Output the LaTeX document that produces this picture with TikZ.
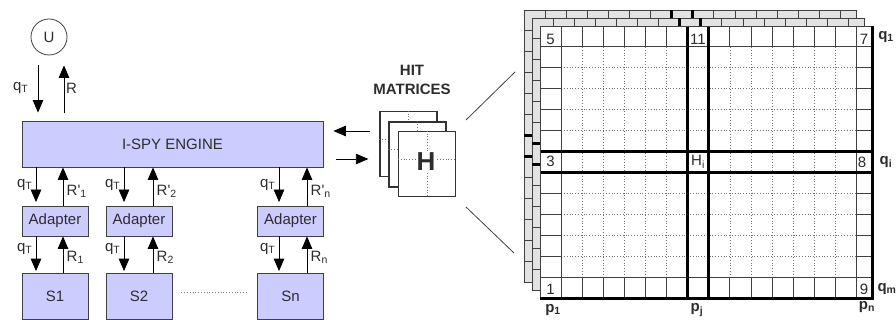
\documentclass[tikz,border=0pt]{standalone}
\usepackage{fontspec}
\setmainfont{Liberation Sans}
\usepackage{tikz}
\usetikzlibrary{arrows.meta,positioning,calc}
\definecolor{engineBlue}{RGB}{204,204,255}
\definecolor{sheetGray}{RGB}{226,226,226}
\definecolor{inkGray}{RGB}{45,45,45}
\newcommand{\cellw}{21.1}
\newcommand{\cellh}{20.92}
\newcommand{\hitsheet}[1]{%
  \begin{scope}[shift={(#1,#1)}]
    \draw[gridline,fill=sheetGray] (0,0) rectangle (332,272);
    \foreach \col in {1,...,15} \draw[gridline] ({\col*\cellw},0) -- ++(0,272);
    \foreach \row in {1,...,12} \draw[gridline] (0,{\row*\cellh}) -- ++(332,0);
    \draw[heavy] ({7*\cellw},0) -- ++(0,272) ({8*\cellw},0) -- ++(0,272)
      (0,{6*\cellh}) -- ++(332,0) (0,{7*\cellh}) -- ++(332,0);
  \end{scope}}

\begin{document}
\begin{tikzpicture}[x=1pt,y=-1pt,
  every node/.style={font=\fontsize{15}{18}\selectfont,text=inkGray},
  box/.style={draw=black!75,fill=engineBlue,line width=0.8pt,inner sep=0pt},
  flow/.style={-{Triangle[length=12.5pt,width=10.5pt]},line width=0.8pt},
  gridline/.style={draw=black!75,line width=0.9pt},
  heavy/.style={draw=black,line width=3pt},
  dots/.style={dotted,black!55,line width=0.8pt},
  sheet/.style={draw=black!80,fill=white,line width=1.2pt,minimum width=57,minimum height=65},
  bold/.style={font=\bfseries\fontsize{15}{18}\selectfont}]
\useasboundingbox (0,0) rectangle (896,320);

\node[circle,draw=black!75,line width=0.8pt,minimum size=36] (U) at (49,37) {U};
\node[box,minimum width=301,minimum height=46] (eng) at (172.5,144) {I-SPY ENGINE};
\foreach \n/\x/\s in {1/55/S1,2/139/S2,3/290.5/Sn}{
  \node[box,minimum width=66,minimum height=30] (a\n) at (\x,221) {Adapter};
  \node[box,minimum width=66,minimum height=46] (s\n) at (\x,296) {\s};
}
\coordinate (udn) at ([xshift=-11pt]U.center);
\coordinate (uup) at ([xshift=15pt]U.center);
\draw[flow,shorten <=10,shorten >=8] (udn |- U.south) -- node[left,xshift=-6pt]{q\textsubscript{T}} (udn |- eng.north);
\draw[flow,shorten <=8,shorten >=10] (uup |- eng.north) -- node[right,xshift=-1.5pt]{R} (uup |- U.south);
\foreach \n/\d/\u/\m in {1/-19/8/1,2/-15/14/2,3/-11.5/16.5/n}{
  \coordinate (dn\n) at ([xshift=\d pt]a\n.center);
  \coordinate (up\n) at ([xshift=\u pt]a\n.center);
  \draw[flow,shorten >=3.5] (dn\n |- eng.south) -- node[left,pos=0.45]{q\textsubscript{T}} (dn\n |- a\n.north);
  \draw[flow] (up\n |- a\n.north) -- node[right,pos=0.38]{R\textquotesingle\textsubscript{\m}} (up\n |- eng.south);
  \draw[flow,shorten >=1.5] (dn\n |- a\n.south) -- node[left,pos=0.35]{q\textsubscript{T}} (dn\n |- s\n.north);
  \draw[flow] (up\n |- s\n.north) -- node[right,pos=0.43]{R\textsubscript{\m}} (up\n |- a\n.south);
}
\draw[dotted,black!50,line width=0.8pt,shorten <=9,shorten >=11] ([yshift=4pt]s2.east) -- ([yshift=4pt]s3.west);

\node[font=\bfseries\fontsize{15}{19}\selectfont,align=center] (hitlbl) at (412,80) {HIT\\MATRICES};
\node[sheet] (hb) at (408.5,144) {};
\draw[dots] (hb.north) -- (hb.south) ([yshift=5pt]hb.west) -- ([yshift=5pt]hb.east);
\node[sheet] (hm) at (417.5,154.5) {};
\draw[dots] (hm.north) -- (hm.south) ([yshift=5pt]hm.west) -- ([yshift=5pt]hm.east);
\node[sheet] (hf) at (427,164) {};
\draw[dots] (hf.north) -- (hf.south) ([yshift=5pt]hf.west) -- ([yshift=5pt]hf.east);
\node[font=\bfseries\fontsize{26}{28}\selectfont,fill=white,inner sep=1pt] (hh) at (426,162) {H};
\draw[flow,shorten <=9,shorten >=10] ([yshift=13pt]hb.west) -- ([yshift=13pt]eng.east);
\draw[flow,shorten <=13,shorten >=11] ([yshift=-15pt]eng.east) -- ([yshift=-15pt]hb.west);

\coordinate (zu0) at (466,120);
\coordinate (zu1) at (515,72);
\coordinate (zl0) at (466,207);
\coordinate (zl1) at (514,253);
\draw[black!75,line width=0.8pt] (zu0) -- (zu1) (zl0) -- (zl1);

\begin{scope}[shift={(540,26)}]
  \hitsheet{-16}
  \hitsheet{-8}
  \fill[white] (0,0) rectangle (332,272);
  \foreach \row in {2,3,4,5,8,9,10,11} \draw[dots] (\cellw,{\row*\cellh}) -- ({15*\cellw},{\row*\cellh});
  \foreach \col in {2,3,4,5,6,9,10,11,12,13,14} \draw[dots] ({\col*\cellw},\cellh) -- ({\col*\cellw},{12*\cellh});
  \foreach \col in {1,...,14} \draw[gridline] ({\col*\cellw},0) -- ++(0,\cellh) ({\col*\cellw},{12*\cellh}) -- ++(0,\cellh);
  \foreach \row in {2,...,11} \draw[gridline] (0,{\row*\cellh}) -- ++(\cellw,0) ({15*\cellw},{\row*\cellh}) -- (332,{\row*\cellh});
  \draw[gridline] (\cellw,0) -- ++(0,272) ({15*\cellw},0) -- ++(0,272)
    (0,\cellh) -- ++(332,0) (0,{12*\cellh}) -- ++(332,0);
  \draw[heavy] ({7*\cellw},0) -- ++(0,272) ({8*\cellw},0) -- ++(0,272)
    (0,{6*\cellh}) -- ++(332,0) (0,{7*\cellh}) -- ++(332,0);
  \draw[gridline] (0,0) rectangle (332,272);
  \draw[heavy] (0,272) -- (332,272) -- (332,0);
  \node (n5) at (10.5,13) {5};
  \node (n11) at (158,13.5) {11};
  \node (n7) at (324,13) {7};
  \node (n3) at (10.5,135.5) {3};
  \node (hij) at (158,136) {H\textsubscript{i}};
  \node (n8) at (322,136) {8};
  \node (n1) at (10.5,263) {1};
  \node (n9) at (324,263) {9};
  \node[bold] (q1) at (346,11) {q\textsubscript{1}};
  \node[bold] (qi) at (346,136) {q\textsubscript{i}};
  \node[bold] (qm) at (347,263) {q\textsubscript{m}};
  \node[bold] (p1) at (13,284) {p\textsubscript{1}};
  \node[bold] (pj) at (157,284) {p\textsubscript{j}};
  \node[bold] (pn) at (327,281) {p\textsubscript{n}};
\end{scope}
\end{tikzpicture}
\end{document}
